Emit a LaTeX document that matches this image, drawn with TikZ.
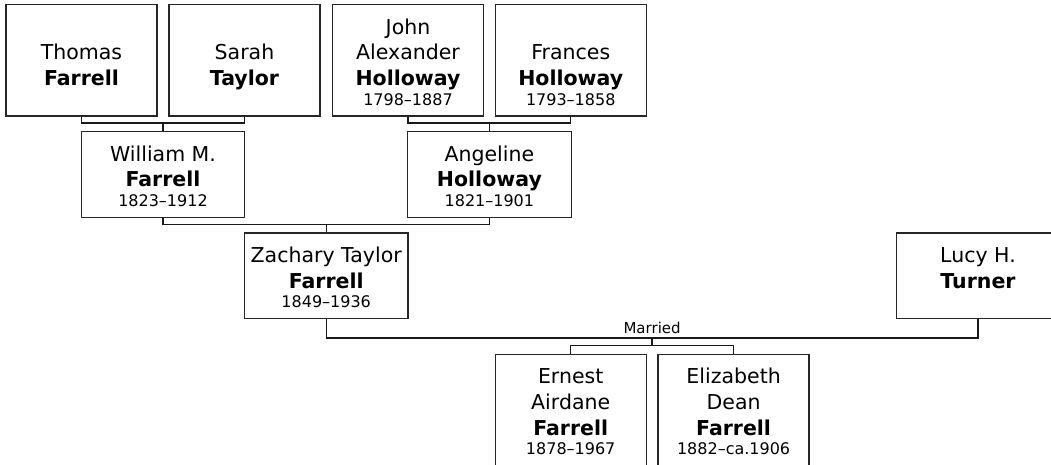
\documentclass[tikz,border=0pt]{standalone}
\usepackage{fontspec}
\setmainfont{DejaVu Sans}
\newcommand\TopS{\rule{0pt}{29.5pt}}
\newcommand\BotS{\rule[-11pt]{0pt}{11pt}}
\newcommand\dates[1]{{\fontsize{16}{19}\selectfont #1}\BotS}
\begin{document}
\begin{tikzpicture}[x=1pt,y=-1pt,
  person/.style={draw=black!85, line width=1.3pt, fill=white, inner xsep=2pt,
    inner ysep=0pt, align=center, anchor=north,
    font=\fontsize{20.5}{25.7}\selectfont},
  small/.style={person, minimum width=151pt},
  wide/.style={person, minimum width=163.5pt},
  link/.style={draw=black!90, line width=1.3pt},
  lbl/.style={font=\fontsize{15}{18}\selectfont, inner sep=0pt}]
\useasboundingbox (0,0) rectangle (1051,464);
% row 1
\node[small] (thomas) at (81.5,4) {\TopS\\Thomas\\\textbf{Farrell}\\[-6.2pt]\BotS};
\node[small] (sarah) at (244.5,4) {\TopS\\Sarah\\\textbf{Taylor}\\[-6.2pt]\BotS};
\node[small] (john) at (408,4) {\TopS John\\Alexander\\\textbf{Holloway}\\[-6.2pt]\dates{1798–1887}};
\node[small] (frances) at (570.75,4) {\TopS\\Frances\\\textbf{Holloway}\\[-6.2pt]\dates{1793–1858}};
% row 2
\node[wide] (william) at (163,131) {\TopS William M.\\\textbf{Farrell}\\[-6.2pt]\dates{1823–1912}};
\node[wide] (angeline) at (489.4,131) {\TopS Angeline\\\textbf{Holloway}\\[-6.2pt]\dates{1821–1901}};
% row 3
\node[wide] (zachary) at (326.2,232.3) {\TopS Zachary Taylor\\\textbf{Farrell}\\[-6.2pt]\dates{1849–1936}};
\node[wide] (lucy) at (978,232.3) {\TopS Lucy H.\\\textbf{Turner}\\[-6.2pt]\BotS};
% row 4
\node[small] (ernest) at (570.7,353.5) {\TopS Ernest\\Airdane\\\textbf{Farrell}\\[-6.2pt]\dates{1878–1967}};
\node[small] (elizabeth) at (733.6,353.5) {\TopS Elizabeth\\Dean\\\textbf{Farrell}\\[-6.2pt]\dates{1882–ca.1906}};
% connectors
\coordinate (p1) at (163,123);
\coordinate (p2) at (489.4,123);
\coordinate (p3) at (326.2,224.3);
\coordinate (p4) at (652.1,338);
\coordinate (p5) at (652.1,345.5);
\draw[link] (thomas.south) |- (p1) -| (sarah.south);
\draw[link] (p1) -- (william.north);
\draw[link] (john.south) |- (p2) -| (frances.south);
\draw[link] (p2) -- (angeline.north);
\draw[link] (william.south) |- (p3) -| (angeline.south);
\draw[link] (p3) -- (zachary.north);
\draw[link] (zachary.south) |- (p4) -| (lucy.south);
\draw[link] (p4) -- (p5);
\draw[link] (ernest.north) |- (p5) -| (elizabeth.north);
\node[lbl, above=4pt] (married) at (p4) {Married};
\end{tikzpicture}
\end{document}
